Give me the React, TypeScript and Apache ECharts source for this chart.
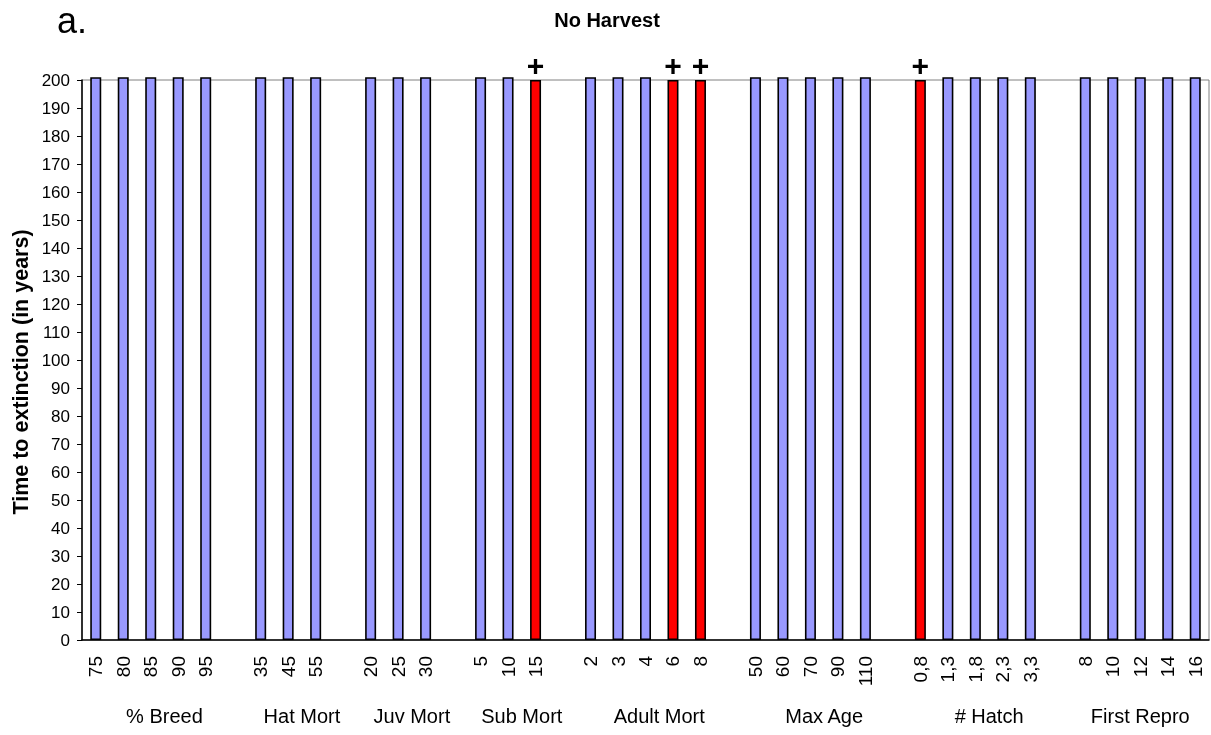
import React, { useEffect, useRef } from "react";
import * as echarts from "echarts";

// Parameter groups and the levels tested in each
const groupNames = ["% Breed", "Hat Mort", "Juv Mort", "Sub Mort", "Adult Mort", "Max Age", "# Hatch", "First Repro"];
const levelLabels = [
  ["75", "80", "85", "90", "95"],
  ["35", "45", "55"],
  ["20", "25", "30"],
  ["5", "10", "15"],
  ["2", "3", "4", "6", "8"],
  ["50", "60", "70", "90", "110"],
  ["0,8", "1,3", "1,8", "2,3", "3,3"],
  ["8", "10", "12", "14", "16"],
];
// Time to extinction (years) for each level
const extinctionYears = [
  [201, 201, 201, 201, 201],
  [201, 201, 201],
  [201, 201, 201],
  [201, 201, 200],
  [201, 201, 201, 200, 200],
  [201, 201, 201, 201, 201],
  [200, 201, 201, 201, 201],
  [201, 201, 201, 201, 201],
];
// Levels flagged with "+"
const flagged = [
  [false, false, false, false, false],
  [false, false, false],
  [false, false, false],
  [false, false, true],
  [false, false, false, true, true],
  [false, false, false, false, false],
  [true, false, false, false, false],
  [false, false, false, false, false],
];

const FONT = "'Liberation Sans', Arial, sans-serif";

export default function App() {
  const ref = useRef<HTMLDivElement>(null);

  useEffect(() => {
    if (!ref.current) return;
    const chart = echarts.init(ref.current, null, { renderer: "svg" });

    // Flatten groups into one category axis, with an empty slot between groups
    const categories: string[] = [];
    const data: any[] = [];
    const groupCenters: number[] = [];
    groupNames.forEach((g, gi) => {
      const start = categories.length;
      const isLast = gi === groupNames.length - 1;
      levelLabels[gi].forEach((lab, li) => {
        categories.push(lab);
        const red = flagged[gi][li];
        data.push({
          value: extinctionYears[gi][li],
          itemStyle: { color: red ? "#ff0000" : "#9999ff" },
          label: red
            ? { show: true, position: "top", distance: 0, formatter: "+", fontSize: 30, fontWeight: "bold", color: "#000", fontFamily: FONT }
            : { show: false },
        });
      });
      const span = levelLabels[gi].length + (isLast ? 0 : 1);
      groupCenters.push(start + span / 2);
      if (!isLast) {
        categories.push("");
        data.push({ value: "-" });
      }
    });
    const total = categories.length;

    chart.setOption({
      animation: false,
      grid: {
        left: 82,
        right: 2,
        top: 80,
        bottom: 95,
        show: true,
        borderColor: "#808080",
        borderWidth: 1,
        outerBoundsMode: "none",
      },
      xAxis: [
        {
          type: "category",
          data: categories,
          axisLine: { lineStyle: { color: "#000", width: 1.5 } },
          axisTick: { show: false },
          axisLabel: { rotate: 90, interval: 0, margin: 16, fontSize: 19, color: "#000", fontFamily: FONT },
          splitLine: { show: false },
        },
        {
          type: "value",
          min: 0,
          max: total,
          position: "bottom",
          axisLine: { show: false },
          axisTick: { show: false },
          splitLine: { show: false },
          axisLabel: {
            customValues: groupCenters,
            margin: 66,
            fontSize: 20,
            color: "#000",
            fontFamily: FONT,
            formatter: (v: number) => {
              const i = groupCenters.indexOf(v);
              return i >= 0 ? groupNames[i] : "";
            },
          },
        },
      ],
      yAxis: {
        type: "value",
        min: 0,
        max: 200,
        interval: 10,
        axisLine: { show: true, lineStyle: { color: "#000", width: 1.5 } },
        axisTick: { show: true, length: 5, lineStyle: { color: "#000" } },
        axisLabel: { fontSize: 17, color: "#000", margin: 12, fontFamily: FONT },
        splitLine: { show: false },
      },
      series: [
        {
          type: "bar",
          data,
          barWidth: 11,
          clip: false,
          itemStyle: { borderColor: "#000", borderWidth: 1.6 },
        },
      ],
      graphic: [
        {
          type: "text",
          x: 57,
          y: 20,
          style: { text: "a.", fontSize: 36, fill: "#000", fontFamily: FONT, verticalAlign: "middle" },
        },
        {
          type: "text",
          x: 607,
          y: 20,
          style: { text: "No Harvest", fontSize: 20, fontWeight: "bold", fill: "#000", fontFamily: FONT, align: "center", verticalAlign: "middle" },
        },
        {
          type: "text",
          x: 21,
          y: 372,
          rotation: Math.PI / 2,
          style: {
            text: "Time to extinction (in years)",
            fontSize: 21.5,
            fontWeight: "bold",
            fill: "#000",
            fontFamily: FONT,
            align: "center",
            verticalAlign: "middle",
          },
        },
      ],
    });

    return () => chart.dispose();
  }, []);

  return <div ref={ref} style={{ position: "fixed", left: 0, top: 0, width: 1211, height: 735 }} />;
}
